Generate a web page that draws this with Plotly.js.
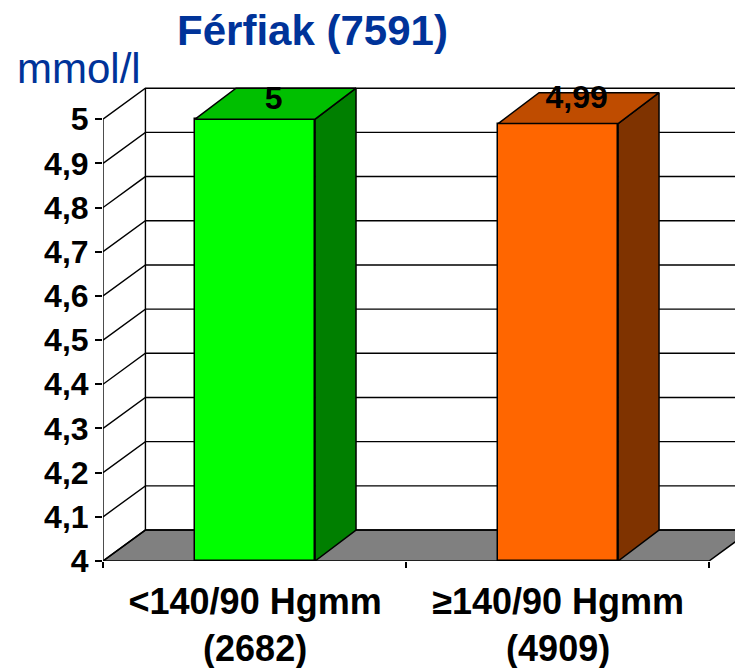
<!DOCTYPE html>
<html>
<head>
<meta charset="utf-8">
<script src="https://cdn.plot.ly/plotly-3.0.1.min.js"></script>
<style>html,body{margin:0;padding:0;background:#fff}</style>
</head>
<body>
<div id="chart"></div>
<script>
// ----- data -----
const categories = ['<140/90 Hgmm<br>(2682)', '≥140/90 Hgmm<br>(4909)'];
const values = [5, 4.99];
const dataLabels = ['5', '4,99'];
const yTicks = [4, 4.1, 4.2, 4.3, 4.4, 4.5, 4.6, 4.7, 4.8, 4.9, 5];
const yTickLabels = ['4', '4,1', '4,2', '4,3', '4,4', '4,5', '4,6', '4,7', '4,8', '4,9', '5'];
const frontColors = ['#00FF00', '#FF6600'];
const topColors = ['#00BF00', '#BF4C00'];
const sideColors = ['#007F00', '#7F3300'];
const titleText = 'Férfiak (7591)';
const unitText = 'mmol/l';

// ----- oblique depth and layout constants, in axis units -----
const depthX = 0.14;
const barDepthX = 0.135;
const depthY = 0.0701;
const barWidth = 0.396;
const barPos = [0.002, 1.002];
const xMin = -0.5, xFront = 1.5, xMax = 1.5857;
const yMin = 4, yMax = 5.0701 + 0.005;
const labelLift = [0.0063, 0.019], labelShift = -0.009;

const traces = [];
const back = {xaxis: 'x', yaxis: 'y', hoverinfo: 'skip', showlegend: false, cliponaxis: false};
const over = {xaxis: 'x2', yaxis: 'y2', hoverinfo: 'skip', showlegend: false, cliponaxis: false};
const edge = {color: '#000', width: 1.5};

// floor
traces.push(Object.assign({}, back, {
  type: 'scatter', mode: 'lines', fill: 'toself', fillcolor: '#808080',
  x: [xMin, xMin + depthX, xFront + depthX, xFront, xMin],
  y: [yMin, yMin + depthY, yMin + depthY, yMin, yMin],
  line: edge
}));

// side wall + back wall gridlines
const gx = [], gy = [];
yTicks.forEach(v => {
  gx.push(xMin, xMin + depthX, xFront + depthX, null);
  gy.push(v, v + depthY, v + depthY, null);
});
gx.push(xMin, xMin, null, xMin + depthX, xMin + depthX);
gy.push(yMin, yTicks[yTicks.length - 1], null, yMin + depthY, yTicks[yTicks.length - 1] + depthY);
traces.push(Object.assign({}, back, {
  type: 'scatter', mode: 'lines', x: gx, y: gy, line: {color: '#000', width: 1.4}
}));

// bar fronts (heights measured from the axis floor)
traces.push(Object.assign({}, over, {
  type: 'bar', x: barPos, y: values.map(v => v - yMin), base: yMin, width: barWidth,
  marker: {color: frontColors, line: edge}
}));

// bar side and top faces
values.forEach((v, i) => {
  const l = barPos[i] - barWidth / 2, r = barPos[i] + barWidth / 2;
  traces.push(Object.assign({}, over, {
    type: 'scatter', mode: 'lines', fill: 'toself', fillcolor: sideColors[i], line: edge,
    x: [r, r + barDepthX, r + barDepthX, r, r],
    y: [yMin, yMin + depthY, v + depthY, v, yMin]
  }));
  traces.push(Object.assign({}, over, {
    type: 'scatter', mode: 'lines', fill: 'toself', fillcolor: topColors[i], line: edge,
    x: [l, l + barDepthX, r + barDepthX, r, l],
    y: [v, v + depthY, v + depthY, v, v]
  }));
});

// data labels
traces.push(Object.assign({}, over, {
  type: 'scatter', mode: 'text',
  x: barPos.map(p => p + depthX / 2 + labelShift),
  y: values.map((v, i) => v + depthY / 2 + labelLift[i]),
  text: dataLabels, textposition: 'middle center',
  textfont: {family: 'Liberation Sans', size: 32, color: '#000', weight: 700}
}));

const layout = {
  width: 735, height: 668,
  margin: {l: 102.5, r: 0, t: 86, b: 107, pad: 0},
  paper_bgcolor: '#fff', plot_bgcolor: '#fff',
  font: {family: 'Liberation Sans', color: '#000'},
  showlegend: false,
  bargap: 0,
  title: {
    text: '<b>' + titleText + '</b>',
    font: {family: 'Liberation Sans', size: 42, color: '#003399'},
    x: 312.5 / 735, xref: 'container', xanchor: 'center',
    y: 1 - 30 / 668, yref: 'container', yanchor: 'middle'
  },
  xaxis: {
    type: 'linear', range: [xMin, xMax], showgrid: false, zeroline: false, showline: false,
    tickvals: [-0.5, 0.5, 1.5], ticktext: ['', '', ''], ticks: 'outside', ticklen: 6, tickwidth: 1.5, tickcolor: '#000'
  },
  yaxis: {
    type: 'linear', range: [yMin, yMax], showgrid: false, zeroline: false, showline: false,
    tickvals: yTicks, ticktext: yTickLabels, ticks: 'outside', ticklen: 7, tickwidth: 1.5, tickcolor: '#000',
    tickfont: {family: 'Liberation Sans', size: 32, weight: 700, color: '#000'}
  },
  xaxis2: {
    type: 'linear', overlaying: 'x', anchor: 'y2', range: [xMin, xMax], showgrid: false, zeroline: false, showline: false,
    tickvals: barPos, ticktext: categories, ticks: '', side: 'bottom', ticklabelstandoff: 16,
    tickfont: {family: 'Liberation Sans', size: 36, weight: 700, color: '#000'}
  },
  yaxis2: {
    type: 'linear', overlaying: 'y', anchor: 'x2', range: [yMin, yMax], showgrid: false, zeroline: false, showline: false,
    showticklabels: false, ticks: ''
  },
  annotations: [{
    text: unitText, showarrow: false, xref: 'paper', yref: 'paper',
    x: 0, y: 1, xanchor: 'right', yanchor: 'middle', xshift: 40, yshift: 18,
    font: {family: 'Liberation Sans', size: 42, color: '#003399'}
  }]
};

Plotly.newPlot('chart', traces, layout, {displayModeBar: false, responsive: false});
</script>
</body>
</html>
